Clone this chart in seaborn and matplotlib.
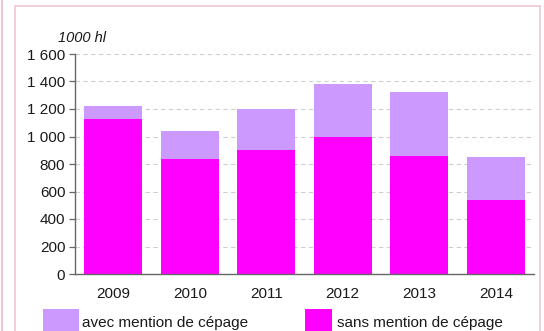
import matplotlib
matplotlib.use("Agg")
import matplotlib.pyplot as plt
from matplotlib.patches import Rectangle
from matplotlib.lines import Line2D
import seaborn as sns
import pandas as pd

# Production (1000 hl) by year
years = ["2009", "2010", "2011", "2012", "2013", "2014"]
sans_mention = [1128, 836, 902, 999, 859, 538]
avec_mention = [93, 202, 296, 382, 466, 311]
y_ticks = [0, 200, 400, 600, 800, 1000, 1200, 1400, 1600]
y_tick_labels = ["0", "200", "400", "600", "800", "1 000", "1 200", "1 400", "1 600"]
legend_labels = ["avec mention de cépage", "sans mention de cépage"]
unit_label = "1000 hl"

color_avec = "#cc99ff"
color_sans = "#ff00ff"
text_color = "#1a1a1a"

sns.set_theme(style="white")
plt.rcParams["font.family"] = ["Liberation Sans", "DejaVu Sans"]

df = pd.DataFrame({
    "year": years,
    "sans": sans_mention,
    "total": [s + a for s, a in zip(sans_mention, avec_mention)],
})

W, H = 544, 331
fig = plt.figure(figsize=(W / 100, H / 100), dpi=100)
ax = fig.add_axes([75 / W, 1 - 274 / H, (534 - 75) / W, 220 / H])

sns.barplot(data=df, x="year", y="total", color=color_avec, width=0.76,
            saturation=1, linewidth=0, edgecolor="none", ax=ax, zorder=2)
sns.barplot(data=df, x="year", y="sans", color=color_sans, width=0.76,
            saturation=1, linewidth=0, edgecolor="none", ax=ax, zorder=3)

ax.set_xlim(-0.5, 5.5)
ax.set_ylim(0, 1600)
ax.set_yticks(y_ticks)
ax.set_yticklabels(y_tick_labels)
ax.set_xlabel("")
ax.set_ylabel("")

for v in y_ticks[1:]:
    ax.axhline(v, color="#cfcfcf", lw=0.8, ls=(0, (4, 3)), zorder=1)

for side in ("top", "right"):
    ax.spines[side].set_visible(False)
for side in ("left", "bottom"):
    ax.spines[side].set_color("#666666")
    ax.spines[side].set_linewidth(1.0)
ax.spines["bottom"].set_zorder(4)

ax.tick_params(axis="y", which="major", length=4, width=0.9, color="#666666",
               direction="out", left=True, pad=3, labelsize=11, labelcolor=text_color)
ax.tick_params(axis="x", which="major", length=0, pad=9, labelsize=11,
               labelcolor=text_color)

fig.text(58 / W, 1 - 38 / H, unit_label, style="italic", fontsize=10.5,
         color=text_color, va="center", ha="left")

# legend swatches and labels along the bottom
swatches = [(43, 79, color_avec, 82), (305, 332, color_sans, 337)]
for (x0, x1, col, tx), label in zip(swatches, legend_labels):
    fig.add_artist(Rectangle((x0 / W, 0), (x1 - x0) / W, (H - 309) / H,
                             transform=fig.transFigure, facecolor=col,
                             edgecolor="none"))
    fig.text(tx / W, 1 - 327 / H, label, fontsize=11, color=text_color,
             ha="left", va="baseline")

# pink outer frame
fig.add_artist(Rectangle((15 / W, -0.05), (540 - 15) / W, 1.05 - 6 / H,
                         transform=fig.transFigure, fill=False,
                         edgecolor="#efc6d2", lw=1.2))
fig.add_artist(Line2D([2 / W, 2 / W], [0, 1], transform=fig.transFigure,
                      color="#efc6d2", lw=1.5))

fig.savefig("out.png", dpi=100)
